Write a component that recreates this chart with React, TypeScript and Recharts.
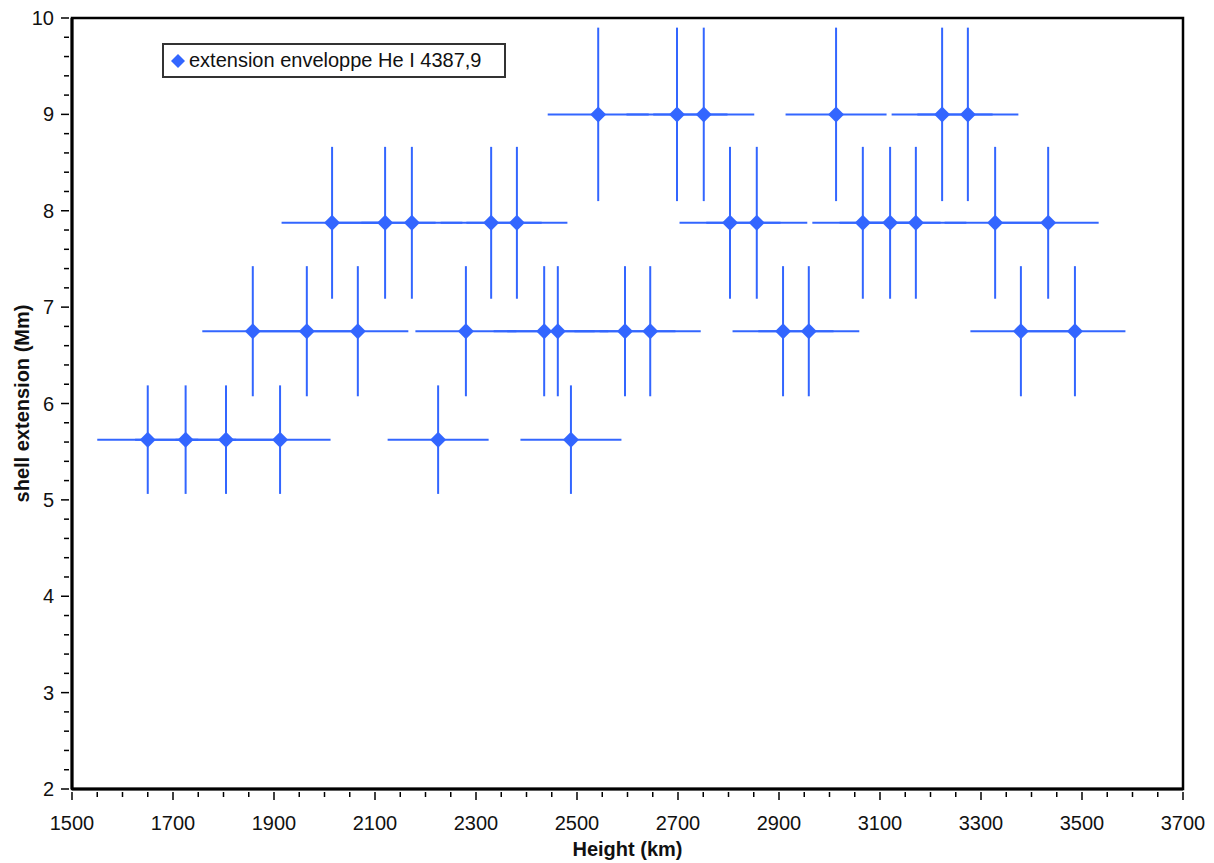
import React from 'react';
import {
  ScatterChart,
  Scatter,
  XAxis,
  YAxis,
  ErrorBar,
  ReferenceArea,
} from 'recharts';

// heights (km) for each shell-extension level
const heights1 = [1650, 1725, 1805, 1912, 2225, 2488];
const heights2 = [1858, 1965, 2066, 2280, 2435, 2462, 2595, 2645, 2908, 2959, 3379, 3486];
const heights3 = [2015, 2120, 2173, 2330, 2381, 2803, 2856, 3066, 3120, 3171, 3328, 3433];
const heights4 = [2542, 2698, 2751, 3013, 3223, 3274];
const levels = [5.625, 6.75, 7.875, 9];
const heightErr = 100;
const extRelErr = 0.1;

const xTicks = [1500, 1700, 1900, 2100, 2300, 2500, 2700, 2900, 3100, 3300, 3500, 3700];
const yTicks = [2, 3, 4, 5, 6, 7, 8, 9, 10];

const xMinor: number[] = [];
for (let v = 1500; v <= 3700; v += 50) xMinor.push(v);
const yMinor: number[] = [];
for (let v = 20; v <= 100; v += 2) yMinor.push(v / 10);

const groups = [heights1, heights2, heights3, heights4];
const data = groups.flatMap((hs, i) =>
  hs.map((h) => ({ h, ext: levels[i], xErr: heightErr, yErr: +(levels[i] * extRelErr).toFixed(3) }))
);

const BLUE = '#3366FF';
const FONT = '"Liberation Sans", Arial, sans-serif';

const Diamond = (props: any) => {
  const { cx, cy } = props;
  const r = 8;
  return (
    <polygon
      points={`${cx},${cy - r} ${cx + r},${cy} ${cx},${cy + r} ${cx - r},${cy}`}
      fill={BLUE}
    />
  );
};

const XTick = (props: any) => {
  const { x, y, payload } = props;
  const major = xTicks.includes(payload.value);
  return (
    <g>
      <line x1={x} y1={y - 5} x2={x} y2={y - 5 + (major ? 8 : 5)} stroke="#000" strokeWidth={1.5} />
      {major && (
        <text x={x} y={y + 33} textAnchor="middle" fontSize={20} fill="#111" fontFamily={FONT}>
          {payload.value}
        </text>
      )}
    </g>
  );
};

const YTick = (props: any) => {
  const { x, y, payload } = props;
  const major = yTicks.some((t) => Math.abs(t - payload.value) < 1e-6);
  return (
    <g>
      <line x1={x + 5} y1={y} x2={x + 5 - (major ? 8 : 5)} y2={y} stroke="#000" strokeWidth={1.5} />
      {major && (
        <text x={x - 10} y={y + 7} textAnchor="end" fontSize={20} fill="#111" fontFamily={FONT}>
          {Math.round(payload.value)}
        </text>
      )}
    </g>
  );
};

const XTitle = (props: any) => {
  const { viewBox } = props;
  return (
    <text
      x={viewBox.x + viewBox.width / 2}
      y={856}
      textAnchor="middle"
      fontFamily={FONT}
      fontWeight={700}
      fontSize={20}
      fill="#111"
    >
      Height (km)
    </text>
  );
};

const App = () => {
  return (
    <div style={{ position: 'absolute', left: 0, top: 0, background: '#fff' }}>
      <ScatterChart width={1214} height={863} margin={{ top: 18, right: 31, bottom: 0, left: 0 }}>
        <XAxis
          type="number"
          dataKey="h"
          domain={[1500, 3700]}
          ticks={xMinor}
          interval={0}
          tick={<XTick />}
          tickLine={false}
          axisLine={{ stroke: '#000', strokeWidth: 3 }}
          height={74}
          label={<XTitle />}
        />
        <YAxis
          type="number"
          dataKey="ext"
          domain={[2, 10]}
          ticks={yMinor}
          interval={0}
          tick={<YTick />}
          tickLine={false}
          axisLine={{ stroke: '#000', strokeWidth: 3 }}
          width={72}
          label={{
            value: 'shell extension (Mm)',
            angle: -90,
            position: 'insideLeft',
            offset: 22,
            style: { fontFamily: FONT, fontWeight: 700, fontSize: 20, fill: '#111', textAnchor: 'middle' },
          }}
        />
        <ReferenceArea x1={1500} x2={3700} y1={2} y2={10} fill="none" stroke="#000" strokeWidth={2.5} />
        <Scatter data={data} shape={<Diamond />} isAnimationActive={false}>
          <ErrorBar dataKey="xErr" direction="x" width={0} stroke={BLUE} strokeWidth={2} />
          <ErrorBar dataKey="yErr" direction="y" width={0} stroke={BLUE} strokeWidth={2} />
        </Scatter>
      </ScatterChart>
      <div
        style={{
          position: 'absolute',
          left: 162,
          top: 43,
          width: 344,
          height: 35,
          boxSizing: 'border-box',
          display: 'flex',
          alignItems: 'center',
          border: '2px solid #333',
          background: '#fff',
          paddingLeft: 6,
          fontFamily: FONT,
          fontSize: 20,
          color: '#111',
          whiteSpace: 'nowrap',
        }}
      >
        <svg width={16} height={16} style={{ marginRight: 3 }}>
          <polygon points="8,1 15,8 8,15 1,8" fill={BLUE} />
        </svg>
        extension enveloppe He I 4387,9
      </div>
    </div>
  );
};

export default App;
